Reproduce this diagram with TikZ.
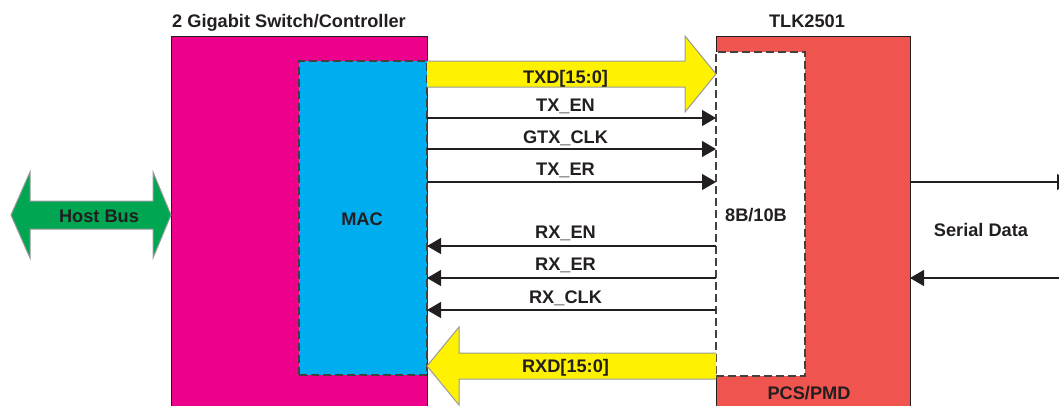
\documentclass[tikz,border=0pt]{standalone}
\usepackage{fontspec}
\setmainfont{Liberation Sans}
\usetikzlibrary{arrows.meta}
\definecolor{swmag}{HTML}{EC008C}
\definecolor{maccyan}{HTML}{00AEEF}
\definecolor{tlkred}{HTML}{F0544F}
\definecolor{busyel}{HTML}{FFF200}
\definecolor{hostgreen}{HTML}{00A651}
\definecolor{ink}{HTML}{231F20}
\begin{document}
\begin{tikzpicture}[x=1pt,y=-1pt,
  lbl/.style={font=\fontsize{18.2}{20}\selectfont\bfseries, text=ink, inner sep=0pt, anchor=base},
  blk/.style={draw=ink, line width=1pt, inner sep=0pt, outer sep=0pt, anchor=north west},
  dsh/.style={draw=ink!85, dash pattern=on 8pt off 4pt, line width=1.2pt, inner sep=0pt, outer sep=0pt, anchor=north west},
  sig/.style={draw=ink, line width=1.2pt, -{Triangle[length=14pt,width=16pt]}},
  fatline/.style={draw=black!40, line width=1pt, line join=miter}]
\useasboundingbox (0,0) rectangle (1059,405);
\clip (0,0) rectangle (1059,405);

% blocks
\node[blk, fill=swmag, minimum width=256pt, minimum height=390pt] (sw) at (171,36) {};
\node[dsh, fill=maccyan, minimum width=128pt, minimum height=314pt] (mac) at (299,61) {};
\node[blk, fill=tlkred, minimum width=194pt, minimum height=390pt] (tlk) at (716,36) {};
\node[dsh, fill=white, minimum width=89pt, minimum height=324pt] (enc) at (716,52) {};

% fat bus arrows
\fill[busyel] (427,61) -- (685,61) -- (685,36) -- (716,74) -- (685,112) -- (685,87) -- (427,87) -- cycle;
\draw[fatline] (427,61) -- (685,61) -- (685,36) -- (716,74) -- (685,112) -- (685,87) -- (427,87);
\fill[busyel] (716,353) -- (459,353) -- (459,327) -- (427,366) -- (459,405) -- (459,379) -- (716,379) -- cycle;
\draw[fatline] (716,353) -- (459,353) -- (459,327) -- (427,366) -- (459,405) -- (459,379) -- (716,379);
\filldraw[fill=hostgreen, fatline] (11,215) -- (30,172) -- (30,201) -- (153,201) -- (153,172) -- (171,215) -- (153,258) -- (153,229) -- (30,229) -- (30,258) -- cycle;

% signal levels
\coordinate (yTXEN) at (0,118);
\coordinate (yGTX) at (0,149);
\coordinate (yTXER) at (0,182);
\coordinate (yRXEN) at (0,246);
\coordinate (yRXER) at (0,278);
\coordinate (yRXCLK) at (0,310);
\coordinate (serout) at (1071,182);
\coordinate (serin) at (1075,278);

\draw[sig] (mac.east |- yTXEN) -- (enc.west |- yTXEN);
\draw[sig] (mac.east |- yGTX) -- (enc.west |- yGTX);
\draw[sig] (mac.east |- yTXER) -- (enc.west |- yTXER);
\draw[sig] (enc.west |- yRXEN) -- (mac.east |- yRXEN);
\draw[sig] (enc.west |- yRXER) -- (mac.east |- yRXER);
\draw[sig] (enc.west |- yRXCLK) -- (mac.east |- yRXCLK);
\draw[sig] (tlk.east |- serout) -- (serout);
\draw[sig] (serin) -- (tlk.east |- serin);

% labels
\node[lbl, anchor=base west] (swt) at (172,27) {2 Gigabit Switch/Controller};
\node[lbl] (tlkt) at (807,27) {TLK2501};
\node[lbl] (txd) at (565.5,83) {TXD[15:0]};
\node[lbl] (txen) at (565.5,111) {TX\_EN};
\node[lbl] (gtx) at (565.5,143) {GTX\_CLK};
\node[lbl] (txer) at (565.5,175) {TX\_ER};
\node[lbl] (rxen) at (565.5,238) {RX\_EN};
\node[lbl] (rxer) at (565.5,270) {RX\_ER};
\node[lbl] (rxclk) at (565.5,303) {RX\_CLK};
\node[lbl] (rxd) at (565.5,372) {RXD[15:0]};
\node[lbl] (enct) at (756,221) {8B/10B};
\node[lbl] (sert) at (981,236) {Serial Data};
\node[lbl] (pcs) at (809,399) {PCS/PMD};
\node[lbl] (host) at (99,222) {Host Bus};
\node[lbl] (mact) at (362,225) {MAC};
\end{tikzpicture}
\end{document}
